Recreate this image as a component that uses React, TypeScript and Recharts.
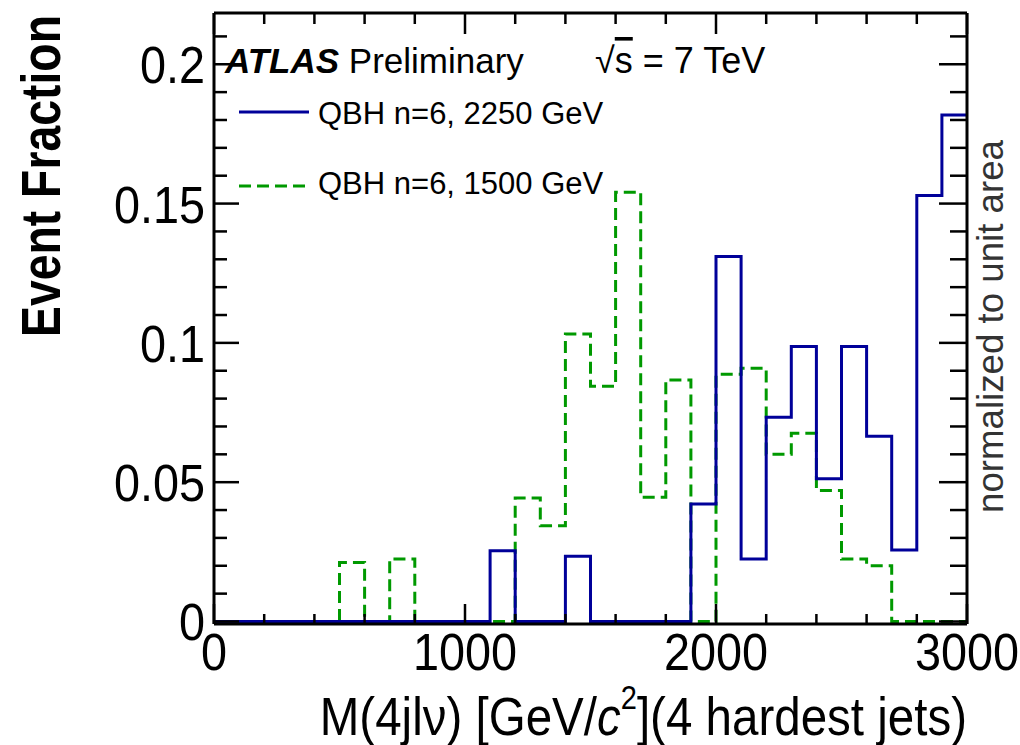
import React from 'react';
import { LineChart, Line, XAxis, YAxis } from 'recharts';

// Histogram bin lower edges (GeV), 100 GeV bins from 0 to 3000
const binEdges = [
  0, 100, 200, 300, 400, 500, 600, 700, 800, 900,
  1000, 1100, 1200, 1300, 1400, 1500, 1600, 1700, 1800, 1900,
  2000, 2100, 2200, 2300, 2400, 2500, 2600, 2700, 2800, 2900,
];

// QBH n=6, 2250 GeV (solid blue)
const qbh2250 = [
  0, 0, 0, 0, 0, 0, 0, 0, 0, 0,
  0, 0.0254, 0, 0, 0.0234, 0, 0, 0, 0, 0.0422,
  0.131, 0.0224, 0.0733, 0.0987, 0.0512, 0.0987, 0.0665, 0.0257, 0.1529, 0.1818,
];

// QBH n=6, 1500 GeV (dashed green)
const qbh1500 = [
  0, 0, 0, 0, 0, 0.0212, 0, 0.0224, 0, 0,
  0, 0, 0.0443, 0.0344, 0.1032, 0.0844, 0.1541, 0.0446, 0.0867, 0,
  0.0887, 0.0909, 0.06, 0.0676, 0.047, 0.0224, 0.02, 0, 0, 0,
];

const xTicks = [0, 200, 400, 600, 800, 1000, 1200, 1400, 1600, 1800, 2000, 2200, 2400, 2600, 2800, 3000];
const xMajor = [0, 1000, 2000, 3000];
const yTicks = [0, 0.01, 0.02, 0.03, 0.04, 0.05, 0.06, 0.07, 0.08, 0.09, 0.1, 0.11, 0.12, 0.13, 0.14, 0.15, 0.16, 0.17, 0.18, 0.19, 0.2, 0.21];
const yMajor = [0, 0.05, 0.1, 0.15, 0.2];
const X_MAX = 3000;
const Y_MIN = -0.0009;
const Y_MAX = 0.2184;

const legendLabels = ['QBH n=6, 2250 GeV', 'QBH n=6, 1500 GeV'];

const data = binEdges
  .map((e, i) => ({ x: e, blue: qbh2250[i], green: qbh1500[i] }))
  .concat([{ x: X_MAX, blue: qbh2250[qbh2250.length - 1], green: qbh1500[qbh1500.length - 1] }]);

const FONT = "'Liberation Sans', Arial, Helvetica, sans-serif";
const BLUE = '#000099';
const GREEN = '#009900';

const isMajorY = (v: number) => yMajor.some((m) => Math.abs(m - v) < 1e-9);

const BottomTick = (props: any) => {
  const { x, y, payload } = props;
  const v = payload.value;
  const major = xMajor.includes(v);
  return (
    <g>
      <line x1={x} x2={x} y1={y} y2={y - (major ? 20 : 10)} stroke="#000" strokeWidth={2.5} />
      {major && (
        <text
          transform={`translate(${x},${y + 46}) scale(0.9,1)`}
          textAnchor="middle"
          fontSize={52}
          fontFamily={FONT}
          fill="#000"
        >
          {v}
        </text>
      )}
    </g>
  );
};

const TopTick = (props: any) => {
  const { x, y, payload } = props;
  const major = xMajor.includes(payload.value);
  return <line x1={x} x2={x} y1={y} y2={y + (major ? 21 : 11)} stroke="#000" strokeWidth={2.5} />;
};

const LeftTick = (props: any) => {
  const { x, y, payload } = props;
  const v = payload.value;
  const major = isMajorY(v);
  return (
    <g>
      <line x1={x} x2={x + (major ? 25 : 13)} y1={y} y2={y} stroke="#000" strokeWidth={2.5} />
      {major && (
        <text
          transform={`translate(${x - 9},${y + 19}) scale(0.9,1)`}
          textAnchor="end"
          fontSize={52}
          fontFamily={FONT}
          fill="#000"
        >
          {v === 0 ? '0' : String(v)}
        </text>
      )}
    </g>
  );
};

const RightTick = (props: any) => {
  const { x, y, payload } = props;
  const major = isMajorY(payload.value);
  return <line x1={x} x2={x - (major ? 28 : 17)} y1={y} y2={y} stroke="#000" strokeWidth={2.5} />;
};

const axisLineStyle = { stroke: '#000', strokeWidth: 3 };

export default function App() {
  return (
    <div style={{ position: 'absolute', left: 0, top: 0, width: 1020, height: 745, background: '#fff' }}>
      <LineChart width={1020} height={745} data={data} margin={{ top: 12, right: 52, bottom: 0, left: 0 }}>
        <XAxis
          xAxisId="b"
          dataKey="x"
          type="number"
          orientation="bottom"
          domain={[0, X_MAX]}
          ticks={xTicks}
          interval={0}
          height={121}
          allowDataOverflow
          tick={<BottomTick />}
          tickLine={false}
          tickSize={0}
          tickMargin={0}
          axisLine={axisLineStyle}
        />
        <XAxis
          xAxisId="t"
          dataKey="x"
          type="number"
          orientation="top"
          domain={[0, X_MAX]}
          ticks={xTicks}
          interval={0}
          height={1}
          allowDataOverflow
          tick={<TopTick />}
          tickLine={false}
          tickSize={0}
          tickMargin={0}
          axisLine={axisLineStyle}
        />
        <YAxis
          yAxisId="l"
          type="number"
          orientation="left"
          domain={[Y_MIN, Y_MAX]}
          ticks={yTicks}
          interval={0}
          width={214}
          allowDataOverflow
          tick={<LeftTick />}
          tickLine={false}
          tickSize={0}
          tickMargin={0}
          axisLine={axisLineStyle}
        />
        <YAxis
          yAxisId="r"
          type="number"
          orientation="right"
          domain={[Y_MIN, Y_MAX]}
          ticks={yTicks}
          interval={0}
          width={1}
          allowDataOverflow
          tick={<RightTick />}
          tickLine={false}
          tickSize={0}
          tickMargin={0}
          axisLine={axisLineStyle}
        />
        <Line
          xAxisId="b"
          yAxisId="l"
          dataKey="green"
          type="stepAfter"
          stroke={GREEN}
          strokeWidth={3}
          strokeDasharray="12 6"
          strokeLinejoin="miter"
          strokeLinecap="butt"
          dot={false}
          activeDot={false}
          isAnimationActive={false}
        />
        <Line
          xAxisId="b"
          yAxisId="l"
          dataKey="blue"
          type="stepAfter"
          stroke={BLUE}
          strokeWidth={3}
          strokeLinejoin="miter"
          strokeLinecap="butt"
          dot={false}
          activeDot={false}
          isAnimationActive={false}
        />
      </LineChart>
      <svg
        width={1020}
        height={745}
        style={{ position: 'absolute', left: 0, top: 0, pointerEvents: 'none' }}
      >
        {/* Y axis title */}
        <text
          transform="translate(60,337) rotate(-90)"
          fontSize={55}
          fontWeight="bold"
          fontFamily={FONT}
          textLength={322}
          lengthAdjust="spacingAndGlyphs"
          fill="#000"
        >
          Event Fraction
        </text>
        {/* Right side note */}
        <text
          transform="translate(1003,513) rotate(-90)"
          fontSize={36}
          fontFamily={FONT}
          textLength={373}
          lengthAdjust="spacingAndGlyphs"
          fill="#333"
        >
          normalized to unit area
        </text>
        {/* X axis title */}
        <text
          transform="translate(967,735) scale(0.88,1)"
          textAnchor="end"
          fontSize={54}
          fontFamily={FONT}
          fill="#000"
        >
          <tspan>M(4jlν) [GeV/</tspan>
          <tspan fontStyle="italic">c</tspan>
          <tspan dy={-26} fontSize={33}>2</tspan>
          <tspan dy={26}>](4 hardest jets)</tspan>
        </text>
        {/* ATLAS label */}
        <text x={225} y={73} fontSize={35} fontFamily={FONT} fill="#000">
          <tspan fontWeight="bold" fontStyle="italic">ATLAS</tspan>
          <tspan> Preliminary</tspan>
        </text>
        <text x={595} y={73} fontSize={36} fontFamily={FONT} fill="#000">
          <tspan>√</tspan>
          <tspan style={{ textDecoration: 'overline' }}>s</tspan>
          <tspan> = 7 TeV</tspan>
        </text>
        {/* Legend */}
        <line x1={239} x2={309} y1={112} y2={112} stroke={BLUE} strokeWidth={3} />
        <text x={318} y={124} fontSize={31} fontFamily={FONT} fill="#000">
          {legendLabels[0]}
        </text>
        <line x1={239} x2={309} y1={186} y2={186} stroke={GREEN} strokeWidth={3} strokeDasharray="12 6" />
        <text x={318} y={194} fontSize={31} fontFamily={FONT} fill="#000">
          {legendLabels[1]}
        </text>
      </svg>
    </div>
  );
}
